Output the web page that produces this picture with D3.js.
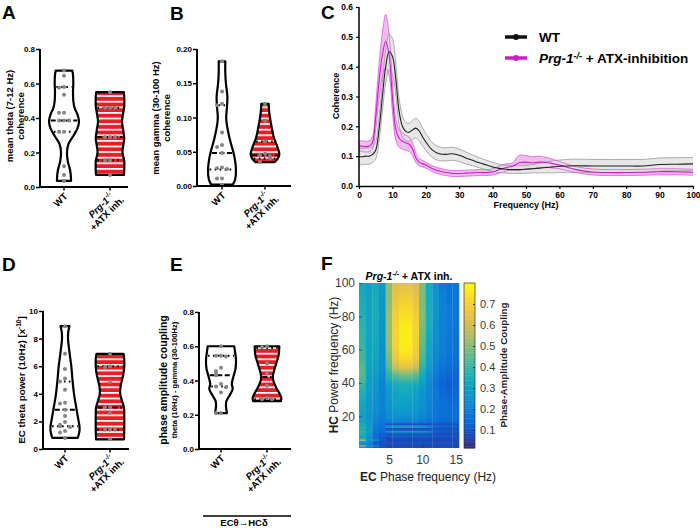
<!DOCTYPE html>
<html><head><meta charset="utf-8">
<script src="https://cdn.jsdelivr.net/npm/d3@7"></script>
<style>body{margin:0;background:#fff;} svg{display:block;font-family:"Liberation Sans",Arial,sans-serif;}</style>
</head><body><svg id="fig" width="700" height="528"></svg>
<script>
// ---------------- DATA ----------------
const groups = ["WT", "Prg-1-/- +ATX inh."];
// Panel A: mean theta (7-12 Hz) coherence
const thetaCohWT = [0.675,0.645,0.58,0.575,0.535,0.43,0.43,0.386,0.386,0.386,0.32,0.32,0.12,0.07,0.035];
const thetaCohPrg = [0.55,0.46,0.46,0.46,0.29,0.29,0.29,0.155,0.155,0.07];
const thetaCohDensWT = [[0.035,0.47],[0.07,0.45],[0.1,0.4],[0.15,0.25],[0.2,0.2],[0.25,0.3],[0.3,0.65],[0.34,0.9],[0.38,1.0],[0.42,0.9],[0.46,0.7],[0.5,0.62],[0.55,0.6],[0.6,0.62],[0.65,0.6],[0.675,0.55]];
const thetaCohDensPrg = [[0.07,0.93],[0.1,0.95],[0.15,0.95],[0.2,0.83],[0.25,0.9],[0.28,0.95],[0.33,0.88],[0.38,0.8],[0.43,0.88],[0.47,0.95],[0.52,0.95],[0.55,0.92]];
const thetaCohStatsWT = [0.32,0.386,0.58];
const thetaCohStatsPrg = [0.155,0.29,0.46];
// Panel B: mean gamma (30-100 Hz) coherence
const gammaCohWT = [0.182,0.138,0.12,0.118,0.078,0.06,0.057,0.048,0.027,0.026,0.025,0.011,0.011,0.002];
const gammaCohPrg = [0.12,0.095,0.065,0.047,0.045,0.044,0.04,0.035];
const gammaCohDensWT = [[0.002,0.72],[0.01,0.88],[0.025,0.93],[0.04,0.85],[0.05,0.75],[0.07,0.5],[0.09,0.32],[0.1,0.28],[0.115,0.33],[0.13,0.36],[0.15,0.26],[0.165,0.22],[0.182,0.22]];
const gammaCohDensPrg = [[0.035,0.65],[0.04,0.85],[0.045,0.95],[0.05,0.93],[0.06,0.78],[0.07,0.6],[0.085,0.45],[0.1,0.33],[0.11,0.27],[0.12,0.25]];
const gammaCohStatsWT = [0.024,0.048,0.118];
const gammaCohStatsPrg = [0.04,0.045,0.065];
// Panel D: EC theta power (10 Hz)
const thetaPowWT = [8.9,6.9,5.8,5.1,4.9,4.3,3.35,3.3,2.85,2.4,1.95,1.75,1.65,1.6,1.3,1.2,0.8];
const thetaPowPrg = [6.9,6.0,5.95,4.85,3.0,3.0,2.6,1.4,1.4,1.4,0.7];
const thetaPowDensWT = [[0.8,0.85],[1.2,0.95],[1.6,0.97],[2,0.91],[3,0.75],[4,0.6],[5,0.5],[6,0.42],[7,0.3],[8,0.2],[8.5,0.22],[8.9,0.3]];
const thetaPowDensPrg = [[0.7,0.93],[1.5,0.95],[2.5,0.95],[3.0,0.93],[3.5,0.8],[4.0,0.68],[4.5,0.7],[5,0.8],[5.5,0.9],[6,0.95],[6.5,0.95],[6.9,0.9]];
const thetaPowStatsWT = [1.65,2.85,4.9];
const thetaPowStatsPrg = [1.4,3.0,6.0];
// Panel E: phase amplitude coupling
const pacWT = [0.60,0.545,0.545,0.54,0.475,0.455,0.44,0.43,0.38,0.365,0.36,0.33,0.21,0.21];
const pacPrg = [0.60,0.595,0.5,0.44,0.37,0.3,0.29,0.29];
const pacDensWT = [[0.21,0.4],[0.25,0.33],[0.28,0.36],[0.31,0.55],[0.35,0.78],[0.38,0.72],[0.42,0.82],[0.47,0.97],[0.52,1.0],[0.56,0.95],[0.6,0.88]];
const pacDensPrg = [[0.28,0.93],[0.3,0.95],[0.33,0.8],[0.36,0.6],[0.4,0.42],[0.43,0.4],[0.46,0.48],[0.5,0.62],[0.55,0.78],[0.6,0.82]];
const pacStatsWT = [0.365,0.43,0.545];
const pacStatsPrg = [0.29,0.42,0.59];

// Panel C: coherence spectra
const cohFreq = [0,1,2,3,4,5,6,7,8,9,10,11,12,13,14,15,16,17,18,19,20,22,24,26,28,30,32,34,36,38,40,42,44,46,48,50,52,54,56,58,60,65,70,75,80,85,90,95,100];
const cohWTMean = [0.098,0.098,0.10,0.10,0.105,0.12,0.19,0.30,0.40,0.45,0.435,0.36,0.25,0.20,0.183,0.18,0.188,0.194,0.185,0.165,0.148,0.12,0.108,0.106,0.108,0.103,0.094,0.086,0.078,0.071,0.064,0.059,0.056,0.055,0.055,0.056,0.058,0.060,0.062,0.064,0.066,0.068,0.067,0.067,0.067,0.067,0.072,0.073,0.074];
const cohWTSem = [0.027,0.027,0.027,0.027,0.027,0.03,0.04,0.05,0.055,0.06,0.06,0.055,0.045,0.035,0.03,0.03,0.032,0.033,0.032,0.03,0.028,0.025,0.023,0.022,0.022,0.021,0.02,0.018,0.017,0.016,0.015,0.014,0.013,0.013,0.013,0.013,0.014,0.016,0.018,0.02,0.021,0.022,0.022,0.022,0.022,0.022,0.022,0.022,0.022];
const cohPrgMean = [0.135,0.133,0.132,0.133,0.145,0.23,0.35,0.44,0.485,0.44,0.30,0.19,0.16,0.15,0.145,0.14,0.125,0.095,0.08,0.075,0.07,0.058,0.05,0.045,0.042,0.042,0.043,0.044,0.045,0.045,0.047,0.055,0.062,0.066,0.078,0.08,0.078,0.08,0.079,0.075,0.07,0.055,0.047,0.045,0.045,0.046,0.048,0.048,0.046];
const cohPrgSem = [0.018,0.018,0.018,0.018,0.02,0.04,0.06,0.075,0.09,0.07,0.05,0.035,0.03,0.027,0.025,0.024,0.022,0.016,0.012,0.011,0.01,0.01,0.01,0.01,0.01,0.01,0.01,0.01,0.01,0.01,0.01,0.012,0.012,0.012,0.025,0.022,0.02,0.02,0.017,0.015,0.012,0.01,0.01,0.01,0.01,0.01,0.01,0.01,0.01];

// Panel F: phase-amplitude comodulogram
const phaseFreqs = [1,2,3,4,5,6,7,8,9,10,11,12,13,14,15];
const powerEdges = [1,3,5,7,9,11,13,15,18,22,27,32,37,42,47,52,57,62,67,72,77,82,87,92,97,100];
const pacMatrix = [ // rows from low to high power frequency
 [0.20,0.18,0.10,0.08,0.08,0.08,0.08,0.08,0.08,0.08,0.08,0.08,0.08,0.08,0.08],
 [0.55,0.28,0.25,0.10,0.06,0.06,0.06,0.06,0.06,0.06,0.06,0.06,0.06,0.06,0.06],
 [0.30,0.22,0.12,0.08,0.08,0.09,0.09,0.09,0.09,0.09,0.09,0.08,0.08,0.08,0.08],
 [0.33,0.25,0.14,0.10,0.07,0.07,0.07,0.07,0.07,0.07,0.07,0.07,0.07,0.07,0.07],
 [0.36,0.28,0.16,0.14,0.13,0.13,0.13,0.13,0.13,0.12,0.12,0.11,0.10,0.10,0.10],
 [0.38,0.30,0.17,0.15,0.25,0.30,0.30,0.30,0.29,0.27,0.22,0.12,0.10,0.10,0.10],
 [0.34,0.28,0.18,0.15,0.08,0.08,0.07,0.07,0.07,0.07,0.07,0.08,0.08,0.08,0.08],
 [0.30,0.26,0.20,0.17,0.19,0.20,0.20,0.20,0.20,0.18,0.16,0.15,0.13,0.13,0.13],
 [0.30,0.26,0.22,0.19,0.23,0.25,0.25,0.25,0.25,0.22,0.19,0.17,0.15,0.15,0.15],
 [0.31,0.27,0.24,0.20,0.25,0.28,0.28,0.28,0.27,0.24,0.20,0.17,0.15,0.15,0.15],
 [0.33,0.27,0.25,0.20,0.26,0.30,0.30,0.30,0.29,0.25,0.21,0.17,0.15,0.14,0.14],
 [0.36,0.28,0.25,0.20,0.27,0.31,0.32,0.32,0.30,0.26,0.21,0.17,0.13,0.12,0.13],
 [0.40,0.29,0.26,0.20,0.30,0.34,0.35,0.35,0.33,0.28,0.22,0.16,0.12,0.11,0.12],
 [0.44,0.30,0.28,0.22,0.38,0.44,0.47,0.47,0.44,0.33,0.24,0.18,0.14,0.13,0.13],
 [0.43,0.30,0.30,0.23,0.44,0.60,0.64,0.64,0.60,0.38,0.28,0.20,0.16,0.15,0.14],
 [0.41,0.31,0.31,0.24,0.47,0.66,0.72,0.72,0.66,0.42,0.30,0.22,0.18,0.16,0.15],
 [0.40,0.31,0.32,0.24,0.50,0.69,0.76,0.76,0.69,0.44,0.31,0.23,0.19,0.17,0.16],
 [0.39,0.31,0.33,0.25,0.51,0.70,0.77,0.77,0.70,0.46,0.32,0.24,0.19,0.17,0.16],
 [0.38,0.31,0.33,0.26,0.52,0.70,0.77,0.77,0.70,0.47,0.33,0.24,0.20,0.18,0.16],
 [0.37,0.31,0.33,0.26,0.52,0.70,0.76,0.76,0.70,0.48,0.34,0.25,0.20,0.18,0.17],
 [0.36,0.31,0.34,0.26,0.52,0.69,0.74,0.74,0.69,0.49,0.35,0.26,0.20,0.18,0.17],
 [0.35,0.31,0.34,0.27,0.51,0.68,0.72,0.72,0.67,0.49,0.34,0.26,0.20,0.18,0.17],
 [0.34,0.31,0.34,0.27,0.50,0.66,0.69,0.69,0.65,0.48,0.34,0.26,0.20,0.17,0.17],
 [0.33,0.30,0.33,0.27,0.50,0.64,0.66,0.66,0.63,0.48,0.33,0.25,0.19,0.17,0.17],
 [0.32,0.30,0.33,0.28,0.50,0.63,0.65,0.64,0.62,0.48,0.33,0.25,0.18,0.16,0.17]
];
const colorbarTicks = [0.1,0.2,0.3,0.4,0.5,0.6,0.7];

// ---------------- DRAW ----------------
const svg = d3.select("#fig");
const defs = svg.append("defs");
const pat = defs.append("pattern").attr("id","stripes").attr("patternUnits","userSpaceOnUse").attr("width",10).attr("height",5.6);
pat.append("rect").attr("width",10).attr("height",5.6).attr("fill","#ec1c24");
pat.append("rect").attr("y",0).attr("width",10).attr("height",1.7).attr("fill","#fff");

const BOLD = "bold";
function letter(t,x,y){ svg.append("text").attr("x",x).attr("y",y).attr("font-size",19).attr("font-weight",BOLD).text(t); }
letter("A",2,19); letter("B",170,20); letter("C",321,19); letter("D",2,271); letter("E",170,271); letter("F",321,270);

function prgTspans(t, supSize){
  t.append("tspan").attr("font-style","italic").text("Prg-1");
  t.append("tspan").attr("font-style","italic").attr("font-size",supSize).attr("dy",-4).text("-/-");
  return t;
}

function violinPanel(cfg){
  const g = svg.append("g");
  const y = d3.scaleLinear().domain(cfg.domain).range([cfg.y0, cfg.y1]);
  const x = d3.scalePoint().domain(groups).range([cfg.ax+cfg.off0, cfg.ax+cfg.off1]);
  const w = d3.scaleLinear().domain([0,1]).range([0,15]);
  cfg.sets.forEach((s,i)=>{
    const cx = x(groups[i]);
    const area = d3.area().curve(d3.curveCatmullRom.alpha(0.5))
      .y(d=>y(d[0])).x0(d=>cx-w(d[1])).x1(d=>cx+w(d[1]));
    g.append("path").attr("d",area(s.dens)).attr("fill", i===1?"url(#stripes)":"#fff")
      .attr("stroke","#000").attr("stroke-width",2.2).attr("stroke-linejoin","round");
    const interp = d3.scaleLinear().domain(s.dens.map(d=>d[0])).range(s.dens.map(d=>d[1])).clamp(true);
    s.stats.forEach((v,k)=>{
      const hw = w(interp(v)) - 1.5;
      g.append("line").attr("x1",cx-hw).attr("x2",cx+hw).attr("y1",y(v)).attr("y2",y(v))
        .attr("stroke","#000").attr("stroke-width",2)
        .attr("stroke-dasharray", k===1 ? "5,2.5" : "1.6,3.4");
    });
    const placed = [];
    s.pts.forEach(v=>{
      const py = y(v);
      const k = placed.filter(p=>Math.abs(p-py)<4).length;
      placed.push(py);
      const off = k===0 ? 0 : (k%2===1 ? -1 : 1)*Math.ceil(k/2)*5;
      g.append("circle").attr("cx",cx+off).attr("cy",py).attr("r",2).attr("fill","#858585");
    });
  });
  // y axis
  const ya = g.append("g").attr("transform",`translate(${cfg.ax},0)`)
    .call(d3.axisLeft(y).tickValues(cfg.ticks).tickFormat(d3.format(cfg.fmt)).tickSize(4).tickSizeOuter(0));
  ya.select(".domain").attr("stroke-width",2).attr("d",`M0,${cfg.y1}V${cfg.y0}`);
  ya.selectAll(".tick line").attr("stroke-width",1.5);
  ya.selectAll(".tick text").attr("font-size",8).attr("font-weight",BOLD).attr("font-family","Liberation Sans, Arial").attr("x",-5);
  // x axis
  g.append("line").attr("x1",cfg.ax-1).attr("x2",cfg.axEnd).attr("y1",cfg.y0).attr("y2",cfg.y0).attr("stroke","#000").attr("stroke-width",2);
  groups.forEach(c=>{
    g.append("line").attr("x1",x(c)).attr("x2",x(c)).attr("y1",cfg.y0).attr("y2",cfg.y0+3.5).attr("stroke","#000").attr("stroke-width",1.5);
  });
  const lx = x(groups[0]), px = x(groups[1]);
  g.append("text").attr("transform",`translate(${lx+4},${cfg.y0+10}) rotate(-45)`).attr("text-anchor","end")
    .attr("font-size",9.5).attr("font-weight",BOLD).text("WT");
  prgTspans(g.append("text").attr("transform",`translate(${px+4},${cfg.y0+10}) rotate(-45)`).attr("text-anchor","end")
    .attr("font-size",9.5).attr("font-weight",BOLD), 6.5);
  g.append("text").attr("transform",`translate(${px+4},${cfg.y0+10}) rotate(-45)`).attr("text-anchor","end")
    .attr("x",5).attr("y",10).attr("font-size",9.5).attr("font-weight",BOLD).text("+ATX inh.");
  // y labels
  cfg.ylab.forEach(l=>{
    const t = g.append("text").attr("transform",`translate(${l.x},${cfg.labCy}) rotate(-90)`).attr("text-anchor","middle")
      .attr("font-size",l.size).attr("font-weight",l.weight||BOLD);
    if (l.fn) l.fn(t); else t.text(l.text);
  });
  return {g,x,y};
}

violinPanel({ax:40, axEnd:128, off0:24, off1:70, domain:[0,0.8], y0:187, y1:49, ticks:[0,0.2,0.4,0.6,0.8], fmt:".1f",
  sets:[{pts:thetaCohWT,dens:thetaCohDensWT,stats:thetaCohStatsWT},{pts:thetaCohPrg,dens:thetaCohDensPrg,stats:thetaCohStatsPrg}],
  labCy:116, ylab:[{x:13,size:9.5,text:"mean theta (7-12 Hz)"},{x:24,size:9.5,text:"coherence"}]});

violinPanel({ax:197, axEnd:291, off0:25, off1:68, domain:[0,0.2], y0:186, y1:49, ticks:[0,0.05,0.1,0.15,0.2], fmt:".2f",
  sets:[{pts:gammaCohWT,dens:gammaCohDensWT,stats:gammaCohStatsWT},{pts:gammaCohPrg,dens:gammaCohDensPrg,stats:gammaCohStatsPrg}],
  labCy:118, ylab:[{x:159,size:9.5,text:"mean gamma (30-100 Hz)"},{x:170,size:9.5,text:"coherence"}]});

violinPanel({ax:43, axEnd:129, off0:22, off1:67, domain:[0,10], y0:449, y1:311, ticks:[0,2,4,6,8,10], fmt:"d",
  sets:[{pts:thetaPowWT,dens:thetaPowDensWT,stats:thetaPowStatsWT},{pts:thetaPowPrg,dens:thetaPowDensPrg,stats:thetaPowStatsPrg}],
  labCy:380, ylab:[{x:25,size:9.8,fn:t=>{t.append("tspan").text("EC theta power (10Hz) [x");t.append("tspan").attr("font-size",6.5).attr("dy",-4).text("-10");t.append("tspan").attr("dy",4).text("]");}}]});

violinPanel({ax:199, axEnd:291, off0:22, off1:68, domain:[0,0.8], y0:449, y1:312, ticks:[0,0.2,0.4,0.6,0.8], fmt:".1f",
  sets:[{pts:pacWT,dens:pacDensWT,stats:pacStatsWT},{pts:pacPrg,dens:pacDensPrg,stats:pacStatsPrg}],
  labCy:380, ylab:[{x:167,size:10.5,text:"phase amplitude coupling"},{x:177,size:7.6,text:"theta (10Hz) - gamma (30-100Hz)"}]});

// E bracket
svg.append("line").attr("x1",203).attr("x2",291).attr("y1",516).attr("y2",516).attr("stroke","#000").attr("stroke-width",1.5);
svg.append("text").attr("x",244).attr("y",526).attr("text-anchor","middle").attr("font-size",9.5).attr("font-weight",BOLD).text("ECθ→HCδ");

// ---------------- Panel C ----------------
(function(){
  const g = svg.append("g");
  const x = d3.scaleLinear().domain([0,100]).range([359,693]);
  const y = d3.scaleLinear().domain([0,0.6]).range([186,7]);
  const band = (mean,sem)=> d3.area().curve(d3.curveCatmullRom).x((d,i)=>x(cohFreq[i])).y0((d,i)=>y(mean[i]-sem[i])).y1((d,i)=>y(mean[i]+sem[i]));
  const edge = (mean,sem,s)=> d3.line().curve(d3.curveCatmullRom).x((d,i)=>x(cohFreq[i])).y((d,i)=>y(mean[i]+s*sem[i]));
  const mline = (mean)=> d3.line().curve(d3.curveCatmullRom).x((d,i)=>x(cohFreq[i])).y((d,i)=>y(mean[i]));
  g.append("path").attr("d",band(cohPrgMean,cohPrgSem)(cohFreq)).attr("fill","#f0b4ee").attr("opacity",0.9);
  g.append("path").attr("d",band(cohWTMean,cohWTSem)(cohFreq)).attr("fill","#e3e3e3").attr("opacity",0.85);
  [-1,1].forEach(s=>{
    g.append("path").attr("d",edge(cohWTMean,cohWTSem,s)(cohFreq)).attr("fill","none").attr("stroke","#9a9a9a").attr("stroke-width",0.8);
    g.append("path").attr("d",edge(cohPrgMean,cohPrgSem,s)(cohFreq)).attr("fill","none").attr("stroke","#d860d8").attr("stroke-width",0.8);
  });
  g.append("path").attr("d",mline(cohPrgMean)(cohFreq)).attr("fill","none").attr("stroke","#c81ec8").attr("stroke-width",1.1);
  g.append("path").attr("d",mline(cohWTMean)(cohFreq)).attr("fill","none").attr("stroke","#222").attr("stroke-width",1.1);

  const ya = g.append("g").attr("transform","translate(359,0)").call(d3.axisLeft(y).ticks(6).tickFormat(d3.format(".1f")).tickSize(3).tickSizeOuter(0));
  const xa = g.append("g").attr("transform","translate(0,186)").call(d3.axisBottom(x).tickValues(d3.range(0,101,10)).tickSize(3).tickSizeOuter(0));
  [ya,xa].forEach(a=>{ a.select(".domain").attr("stroke-width",1.5); a.selectAll(".tick line").attr("stroke-width",1.2);
    a.selectAll(".tick text").attr("font-size",8.5).attr("font-weight",BOLD).attr("font-family","Liberation Sans, Arial"); });
  ya.select(".domain").attr("d","M0,7V186");
  g.append("text").attr("transform","translate(339,96) rotate(-90)").attr("text-anchor","middle").attr("font-size",9).attr("font-weight",BOLD).text("Coherence");
  g.append("text").attr("x",526).attr("y",208).attr("text-anchor","middle").attr("font-size",9).attr("font-weight",BOLD).text("Frequency (Hz)");
  // legend
  const leg = [{c:"#111",y:37},{c:"#c81ec8",y:58}];
  leg.forEach((l,i)=>{
    g.append("line").attr("x1",505).attr("x2",527).attr("y1",l.y).attr("y2",l.y).attr("stroke",l.c).attr("stroke-width",3.5);
    g.append("circle").attr("cx",516).attr("cy",l.y).attr("r",3).attr("fill",l.c);
  });
  g.append("text").attr("x",539).attr("y",42).attr("font-size",13.5).attr("font-weight",BOLD).text("WT");
  const t = g.append("text").attr("x",539).attr("y",63).attr("font-size",13.5).attr("font-weight",BOLD);
  prgTspans(t, 9);
  t.append("tspan").attr("dy",4).text(" + ATX-inhibition");
})();

// ---------------- Panel F ----------------
(function(){
  const g = svg.append("g");
  const x = d3.scaleLinear().domain([0.5,15.5]).range([359,459]);
  const y = d3.scaleLinear().domain([1,100]).range([448,283]);
  const parula = d3.interpolateRgbBasis(["#352a87","#0363e1","#1485d4","#06a7c6","#38b99e","#92bf73","#d9ba56","#fcce2e","#f9fb0e"]);
  const cmin = 0.014, cmax = 0.8;
  const color = d3.scaleSequential(parula).domain([cmin,cmax]);
  const yMin = powerEdges[0], yMax = powerEdges[powerEdges.length-1];
  const off = v => (yMax - v)/(yMax - yMin);
  phaseFreqs.forEach((f,c)=>{
    const stops = [];
    pacMatrix.forEach((row,r)=>{
      const lo = powerEdges[r], hi = powerEdges[r+1];
      if (hi <= 15) { stops.push([off(lo), row[c]]); stops.push([off(hi), row[c]]); }
      else if (lo === 15) { stops.push([off(lo), row[c]]); stops.push([off((lo+hi)/2), row[c]]); }
      else stops.push([off((lo+hi)/2), row[c]]);
    });
    stops.push([0, pacMatrix[pacMatrix.length-1][c]]);
    stops.sort((a,b)=>a[0]-b[0]);
    const gid = "pacCol"+c;
    const lg = defs.append("linearGradient").attr("id",gid).attr("x1",0).attr("x2",0).attr("y1",0).attr("y2",1);
    stops.forEach(s=> lg.append("stop").attr("offset",s[0]).attr("stop-color",color(s[1])));
    g.append("rect").attr("x",x(f-0.5)).attr("width",x(f+0.5)-x(f-0.5)+0.3)
      .attr("y",y(yMax)).attr("height",y(yMin)-y(yMax)).attr("fill",`url(#${gid})`);
  });
  const ya = g.append("g").attr("transform","translate(359,0)").call(d3.axisLeft(y).tickValues([20,40,60,80,100]).tickSize(-3).tickSizeOuter(0));
  const xa = g.append("g").attr("transform","translate(0,448)").call(d3.axisBottom(x).tickValues([5,10,15]).tickSize(-3).tickSizeOuter(0));
  [ya,xa].forEach(a=>{ a.select(".domain").attr("stroke","none"); a.selectAll(".tick line").attr("stroke","#333").attr("stroke-width",0.6);
    a.selectAll(".tick text").attr("font-size",12).attr("fill","#3a3a3a").attr("font-family","Liberation Sans, Arial"); });
  ya.selectAll(".tick text").attr("x",-4);
  xa.selectAll(".tick text").attr("y",7);
  const tt = g.append("text").attr("x",409).attr("y",280).attr("text-anchor","middle").attr("font-size",10.5).attr("font-weight",BOLD);
  prgTspans(tt, 7); tt.append("tspan").attr("dy",4).text(" + ATX inh.");
  const yl = g.append("text").attr("transform","translate(338,365) rotate(-90)").attr("text-anchor","middle").attr("font-size",12).attr("fill","#222");
  yl.append("tspan").attr("font-weight",BOLD).text("HC"); yl.append("tspan").text(" Power frequency (Hz)");
  const xl = g.append("text").attr("x",360).attr("y",481).attr("font-size",12).attr("fill","#222");
  xl.append("tspan").attr("font-weight",BOLD).text("EC"); xl.append("tspan").text(" Phase frequency (Hz)");
  // colorbar
  const cy = d3.scaleLinear().domain([cmin,cmax]).range([448,283]);
  const steps = d3.range(0,100).map(i=>cmin + (cmax-cmin)*i/100);
  steps.forEach(v=>{
    g.append("rect").attr("x",464).attr("width",11).attr("y",cy(v+(cmax-cmin)/100)).attr("height",Math.abs(cy(v)-cy(v+(cmax-cmin)/100))+0.4).attr("fill",color(v));
  });
  g.append("rect").attr("x",464).attr("y",283).attr("width",11).attr("height",165).attr("fill","none").attr("stroke","#333").attr("stroke-width",0.7);
  const ca = g.append("g").attr("transform","translate(475,0)").call(d3.axisRight(cy).tickValues(colorbarTicks).tickFormat(d3.format(".1f")).tickSize(-2).tickSizeOuter(0));
  ca.select(".domain").attr("stroke","none");
  ca.selectAll(".tick line").attr("stroke","#333");
  ca.selectAll(".tick text").attr("x",5).attr("font-size",11).attr("fill","#3a3a3a").attr("font-family","Liberation Sans, Arial");
  g.append("text").attr("transform","translate(507,365) rotate(-90)").attr("text-anchor","middle").attr("font-size",9.8).attr("font-weight",BOLD).attr("fill","#222").text("Phase-Amplitude Coupling");
})();
</script></body></html>
